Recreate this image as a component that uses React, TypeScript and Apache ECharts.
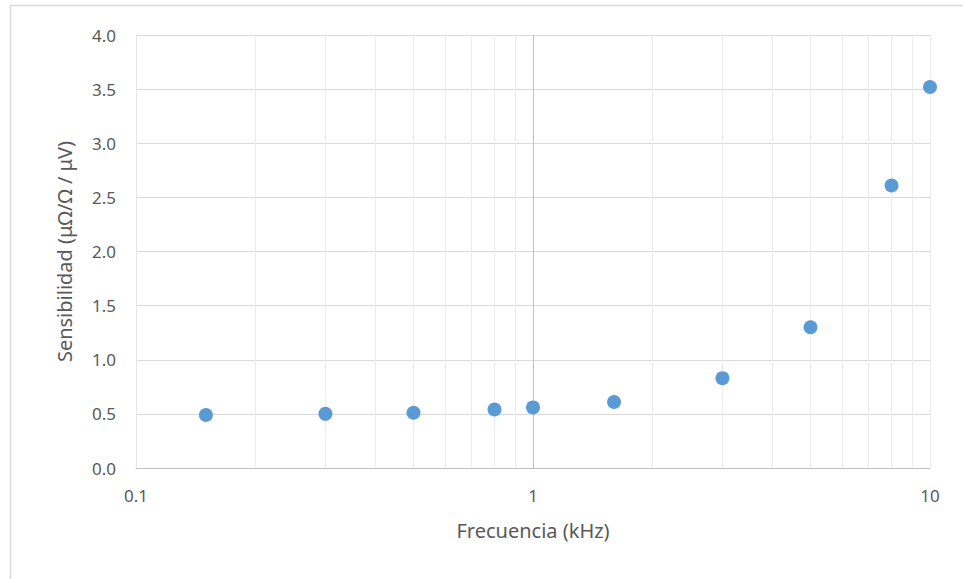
import React, { useEffect, useRef } from "react";
import * as echarts from "echarts";

const frequencies = [0.15, 0.3, 0.5, 0.8, 1.0, 1.6, 3.0, 5.0, 8.0, 10.0];
const sensitivities = [0.49, 0.5, 0.51, 0.54, 0.56, 0.61, 0.83, 1.3, 2.61, 3.52];
const minorGridValues = [0.2, 0.3, 0.4, 0.5, 0.6, 0.7, 0.8, 0.9, 2, 3, 4, 5, 6, 7, 8, 9];
const xAxisTitle = "Frecuencia (kHz)";
const yAxisTitle = "Sensibilidad (μΩ/Ω / μV)";

const FONT = "Noto Sans";
const TEXT = "#595959";

export default function App() {
  const ref = useRef<HTMLDivElement>(null);
  useEffect(() => {
    if (!ref.current) return;
    const chart = echarts.init(ref.current, undefined, { renderer: "svg" });
    chart.setOption({
      animation: false,
      backgroundColor: "#ffffff",
      textStyle: { fontFamily: FONT, color: TEXT },
      graphic: [
        {
          type: "rect",
          shape: { x: 10.5, y: 5.5, width: 1200, height: 1200 },
          style: { fill: "none", stroke: "#d9d9d9", lineWidth: 1.5 },
          silent: true,
          z: -10,
        },
      ],
      grid: { left: 136, top: 35, right: 33, bottom: 111, containLabel: false },
      xAxis: {
        type: "log",
        logBase: 10,
        min: 0.1,
        max: 10,
        name: xAxisTitle,
        nameLocation: "middle",
        nameGap: 52,
        nameTextStyle: { fontSize: 20, color: TEXT, fontFamily: FONT },
        axisLine: { show: true, lineStyle: { color: "#bfbfbf", width: 1 } },
        axisTick: { show: false },
        axisLabel: {
          color: TEXT,
          fontSize: 17,
          margin: 19,
          fontFamily: FONT,
          formatter: (v: number) => String(v),
        },
        splitLine: {
          show: true,
          lineStyle: { color: ["#e6e6e6", "#bfbfbf", "#ebebeb"], width: 1 },
        },
        minorTick: { show: false },
        minorSplitLine: { show: false },
      },
      yAxis: {
        type: "value",
        min: 0,
        max: 4,
        interval: 0.5,
        name: yAxisTitle,
        nameLocation: "middle",
        nameGap: 62,
        nameTextStyle: { fontSize: 20, color: TEXT, fontFamily: FONT },
        axisLine: { show: false },
        axisTick: { show: false },
        axisLabel: {
          color: TEXT,
          fontSize: 17,
          margin: 20,
          fontFamily: FONT,
          formatter: (v: number) => v.toFixed(1),
        },
        splitLine: { show: true, lineStyle: { color: "#d9d9d9", width: 1 } },
      },
      series: [
        {
          type: "scatter",
          data: frequencies.map((f, i) => [f, sensitivities[i]]),
          symbol: "circle",
          symbolSize: 14,
          itemStyle: { color: "#5b9bd5", opacity: 1 },
          z: 5,
          markLine: {
            silent: true,
            symbol: ["none", "none"],
            label: { show: false },
            lineStyle: { color: "#ececec", width: 1, type: "solid" },
            emphasis: { disabled: true },
            data: minorGridValues.map((v) => ({ xAxis: v })),
            z: 1,
          },
        },
      ],
    });
    return () => chart.dispose();
  }, []);
  return (
    <div
      ref={ref}
      style={{ position: "fixed", left: 0, top: 0, width: 963, height: 579 }}
    />
  );
}
